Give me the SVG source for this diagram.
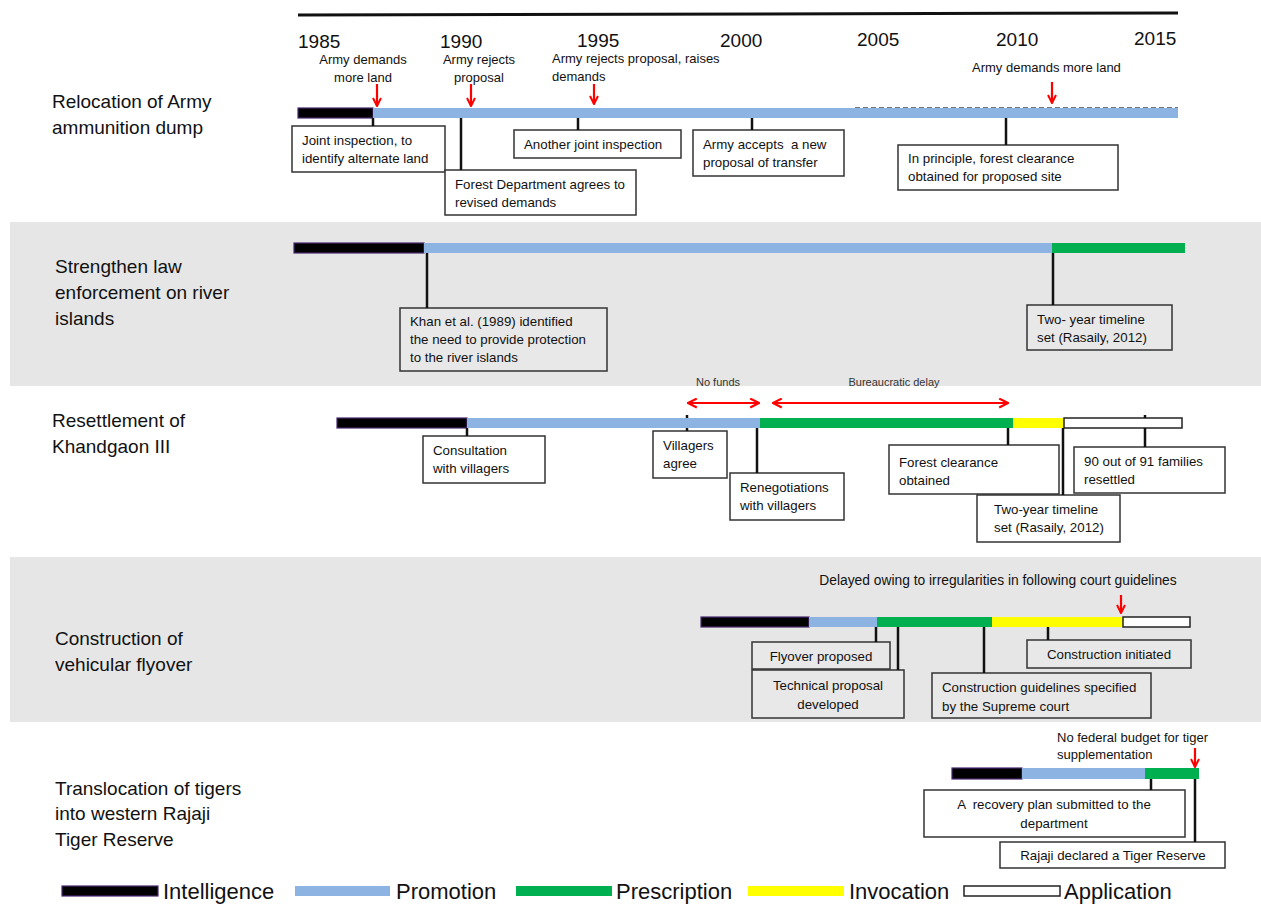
<svg xmlns="http://www.w3.org/2000/svg" width="1261" height="913" viewBox="0 0 1261 913">
<style>
text{font-family:"Liberation Sans","Noto Sans",Arial,sans-serif;fill:#111}
.yr{font-size:19px}
.lbl{font-size:19px}
.ann{font-size:13px}
.box{fill:#fff;stroke:#333;stroke-width:1.5}
.gbox{fill:#e8e8e8;stroke:#333;stroke-width:1.5}
.bt{font-size:13.3px}
.small{font-size:11px;fill:#333}
.tick{stroke:#111;stroke-width:2.5}
.red{stroke:#f00;stroke-width:2.2;fill:none}
.int{fill:#000;stroke:#4a2a70;stroke-width:1.2}
.pro{fill:#8db3e2}
.pre{fill:#00b050}
.inv{fill:#ffff00}
.app{fill:#fff;stroke:#222;stroke-width:1.5}
.leg{font-size:22px}
</style>
<defs>
<marker id="ah" viewBox="0 0 10 10" refX="9" refY="5" markerWidth="10" markerHeight="10" orient="auto" markerUnits="userSpaceOnUse">
<path d="M1,1 L9,5 L1,9" fill="none" stroke="#f00" stroke-width="2"/>
</marker>
<marker id="ah2" viewBox="0 0 10 10" refX="9" refY="5" markerWidth="11" markerHeight="11" orient="auto-start-reverse" markerUnits="userSpaceOnUse">
<path d="M1,1 L9,5 L1,9" fill="none" stroke="#f00" stroke-width="2"/>
</marker>
</defs>
<rect width="1261" height="913" fill="#fff"/>
<rect x="10" y="222" width="1251" height="164" fill="#e6e6e6"/>
<rect x="10" y="557" width="1251" height="165" fill="#e6e6e6"/>

<g id="axis">
<line x1="298" y1="15" x2="1178" y2="13" stroke="#111" stroke-width="3"/>
<text class="yr" x="298" y="48">1985</text>
<text class="yr" x="440" y="47.5">1990</text>
<text class="yr" x="577" y="47">1995</text>
<text class="yr" x="720" y="46.5">2000</text>
<text class="yr" x="857" y="46">2005</text>
<text class="yr" x="996" y="45.5">2010</text>
<text class="yr" x="1134" y="45">2015</text>
</g>

<g id="row1">
<text class="lbl" x="52" y="108">Relocation of Army</text>
<text class="lbl" x="52" y="134">ammunition dump</text>
<text class="ann" x="363" y="64" text-anchor="middle">Army demands</text>
<text class="ann" x="363" y="82" text-anchor="middle">more land</text>
<text class="ann" x="479" y="64" text-anchor="middle">Army rejects</text>
<text class="ann" x="479" y="82" text-anchor="middle">proposal</text>
<text class="ann" x="552" y="63">Army rejects proposal, raises</text>
<text class="ann" x="552" y="81">demands</text>
<text class="ann" x="972" y="72">Army demands more land</text>
<rect class="int" x="298" y="108" width="75" height="10"/>
<rect class="pro" x="373" y="108" width="805" height="10"/>
<line x1="855" y1="107.5" x2="1178" y2="107.5" stroke="#777" stroke-width="1.2" stroke-dasharray="5,3"/>
<rect class="box" x="292" y="126" width="153" height="46"/>
<text class="bt" x="302" y="145">Joint inspection, to</text>
<text class="bt" x="302" y="163">identify alternate land</text>
<rect class="box" x="445" y="170" width="191" height="45"/>
<text class="bt" x="455" y="189">Forest Department agrees to</text>
<text class="bt" x="455" y="207">revised demands</text>
<rect class="box" x="514" y="130" width="167" height="28"/>
<text class="bt" x="524" y="149">Another joint inspection</text>
<rect class="box" x="693" y="130" width="151" height="46"/>
<text class="bt" x="703" y="149" xml:space="preserve">Army accepts  a new</text>
<text class="bt" x="703" y="167">proposal of transfer</text>
<rect class="box" x="898" y="145" width="220" height="45"/>
<text class="bt" x="908" y="163">In principle, forest clearance</text>
<text class="bt" x="908" y="181">obtained for proposed site</text>
</g>

<g id="row2">
<text class="lbl" x="55" y="273">Strengthen law</text>
<text class="lbl" x="55" y="299">enforcement on river</text>
<text class="lbl" x="55" y="325">islands</text>
<rect class="int" x="294" y="243" width="130" height="10"/>
<rect class="pro" x="424" y="243" width="628" height="10"/>
<rect class="pre" x="1052" y="243" width="133" height="10"/>
<rect class="gbox" x="400" y="308" width="207" height="63"/>
<text class="bt" x="410" y="326">Khan et al. (1989) identified</text>
<text class="bt" x="410" y="344">the need to provide protection</text>
<text class="bt" x="410" y="362">to the river islands</text>
<rect class="gbox" x="1027" y="305" width="145" height="45"/>
<text class="bt" x="1037" y="324">Two- year timeline</text>
<text class="bt" x="1037" y="342">set (Rasaily, 2012)</text>
</g>

<g id="row3">
<text class="lbl" x="52" y="427">Resettlement of</text>
<text class="lbl" x="52" y="453">Khandgaon III</text>
<text class="small" x="718" y="386" text-anchor="middle">No funds</text>
<text class="small" x="894" y="386" text-anchor="middle">Bureaucratic delay</text>
<rect class="int" x="337" y="418" width="130" height="10"/>
<rect class="pro" x="467" y="418" width="293" height="10"/>
<rect class="pre" x="760" y="418" width="253" height="10"/>
<rect class="inv" x="1013" y="418" width="51" height="10"/>
<rect class="app" x="1064" y="418" width="118" height="10"/>
<rect class="box" x="423" y="436" width="122" height="47"/>
<text class="bt" x="433" y="455">Consultation</text>
<text class="bt" x="433" y="473">with villagers</text>
<rect class="box" x="653" y="431" width="74" height="47"/>
<text class="bt" x="663" y="450">Villagers</text>
<text class="bt" x="663" y="468">agree</text>
<rect class="box" x="730" y="473" width="114" height="47"/>
<text class="bt" x="740" y="492">Renegotiations</text>
<text class="bt" x="740" y="510">with villagers</text>
<rect class="box" x="889" y="445" width="170" height="49"/>
<text class="bt" x="899" y="467">Forest clearance</text>
<text class="bt" x="899" y="485">obtained</text>
<rect class="box" x="977" y="495" width="143" height="47"/>
<text class="bt" x="994" y="514">Two-year timeline</text>
<text class="bt" x="994" y="532">set (Rasaily, 2012)</text>
<rect class="box" x="1074" y="447" width="151" height="46"/>
<text class="bt" x="1084" y="466">90 out of 91 families</text>
<text class="bt" x="1084" y="484">resettled</text>
</g>

<g id="row4">
<text class="lbl" x="55" y="645">Construction of</text>
<text class="lbl" x="55" y="671">vehicular flyover</text>
<text class="ann" x="998" y="585" text-anchor="middle" style="font-size:13.8px">Delayed owing to irregularities in following court guidelines</text>
<rect class="int" x="701" y="617" width="108" height="10"/>
<rect class="pro" x="809" y="617" width="68" height="10"/>
<rect class="pre" x="877" y="617" width="115" height="10"/>
<rect class="inv" x="992" y="617" width="131" height="10"/>
<rect class="app" x="1123" y="617" width="67" height="10"/>
<rect class="gbox" x="752" y="642" width="138" height="27"/>
<text class="bt" x="821" y="661" text-anchor="middle">Flyover proposed</text>
<rect class="gbox" x="752" y="670" width="152" height="48"/>
<text class="bt" x="828" y="690" text-anchor="middle">Technical proposal</text>
<text class="bt" x="828" y="709" text-anchor="middle">developed</text>
<rect class="gbox" x="932" y="673" width="219" height="45"/>
<text class="bt" x="942" y="692">Construction guidelines specified</text>
<text class="bt" x="942" y="711">by the Supreme court</text>
<rect class="gbox" x="1027" y="640" width="164" height="28"/>
<text class="bt" x="1109" y="659" text-anchor="middle">Construction initiated</text>
</g>

<g id="row5">
<text class="lbl" x="55" y="795">Translocation of tigers</text>
<text class="lbl" x="55" y="820">into western Rajaji</text>
<text class="lbl" x="55" y="846">Tiger Reserve</text>
<text class="ann" x="1057" y="742">No federal budget for tiger</text>
<text class="ann" x="1057" y="759">supplementation</text>
<rect class="int" x="952" y="768" width="70" height="11"/>
<rect class="pro" x="1022" y="768" width="123" height="11"/>
<rect class="pre" x="1145" y="768" width="54" height="11"/>
<rect class="box" x="924" y="790" width="261" height="47"/>
<text class="bt" x="1054" y="809" text-anchor="middle" xml:space="preserve">A  recovery plan submitted to the</text>
<text class="bt" x="1054" y="828" text-anchor="middle">department</text>
<rect class="box" x="1000" y="842" width="225" height="26"/>
<text class="bt" x="1113" y="860" text-anchor="middle">Rajaji declared a Tiger Reserve</text>
</g>

<g id="connectors">
<line class="tick" x1="373" y1="118" x2="373" y2="126"/>
<line class="tick" x1="461" y1="118" x2="461" y2="170"/>
<line class="tick" x1="578" y1="118" x2="578" y2="130"/>
<line class="tick" x1="752" y1="118" x2="752" y2="130"/>
<line class="tick" x1="1006" y1="118" x2="1006" y2="145"/>
<line class="red" x1="377" y1="84" x2="377" y2="106" marker-end="url(#ah)"/>
<line class="red" x1="471" y1="84" x2="471" y2="106" marker-end="url(#ah)"/>
<line class="red" x1="594" y1="84" x2="594" y2="104" marker-end="url(#ah)"/>
<line class="red" x1="1052" y1="82" x2="1052" y2="103" marker-end="url(#ah)"/>
<line class="tick" x1="427" y1="253" x2="427" y2="308"/>
<line class="tick" x1="1053" y1="253" x2="1053" y2="305"/>
<line class="red" x1="688" y1="403" x2="759" y2="403" marker-start="url(#ah2)" marker-end="url(#ah2)"/>
<line class="red" x1="773" y1="403" x2="1008" y2="403" marker-start="url(#ah2)" marker-end="url(#ah2)"/>
<line class="tick" x1="687" y1="415" x2="687" y2="418" stroke-width="1.5"/>
<line class="tick" x1="687" y1="428" x2="687" y2="431" stroke-width="2"/>
<line class="tick" x1="467" y1="428" x2="467" y2="436"/>
<line class="tick" x1="757" y1="428" x2="757" y2="473"/>
<line class="tick" x1="1008" y1="428" x2="1008" y2="445"/>
<line class="tick" x1="1063" y1="428" x2="1063" y2="495"/>
<line class="tick" x1="1145" y1="415" x2="1145" y2="418" stroke-width="1.5"/>
<line class="tick" x1="1145" y1="428" x2="1145" y2="447"/>
<line class="red" x1="1121" y1="595" x2="1121" y2="613" marker-end="url(#ah)"/>
<line class="tick" x1="876" y1="627" x2="876" y2="642"/>
<line class="tick" x1="898" y1="627" x2="898" y2="670"/>
<line class="tick" x1="984" y1="627" x2="984" y2="673"/>
<line class="tick" x1="1048" y1="627" x2="1048" y2="640"/>
<line class="red" x1="1195" y1="748" x2="1195" y2="767" marker-end="url(#ah)"/>
<line class="tick" x1="1151" y1="779" x2="1151" y2="790"/>
<line class="tick" x1="1195" y1="779" x2="1195" y2="842"/>
</g>

<g id="legend">
<rect class="int" x="62" y="886" width="96" height="10"/>
<text class="leg" x="163" y="899">Intelligence</text>
<rect class="pro" x="295" y="886" width="95" height="10"/>
<text class="leg" x="396" y="899">Promotion</text>
<rect class="pre" x="516" y="886" width="96" height="10"/>
<text class="leg" x="616" y="899">Prescription</text>
<rect class="inv" x="748" y="886" width="96" height="10"/>
<text class="leg" x="849" y="899">Invocation</text>
<rect class="app" x="964" y="886" width="96" height="10"/>
<text class="leg" x="1064" y="899">Application</text>
</g>
</svg>
